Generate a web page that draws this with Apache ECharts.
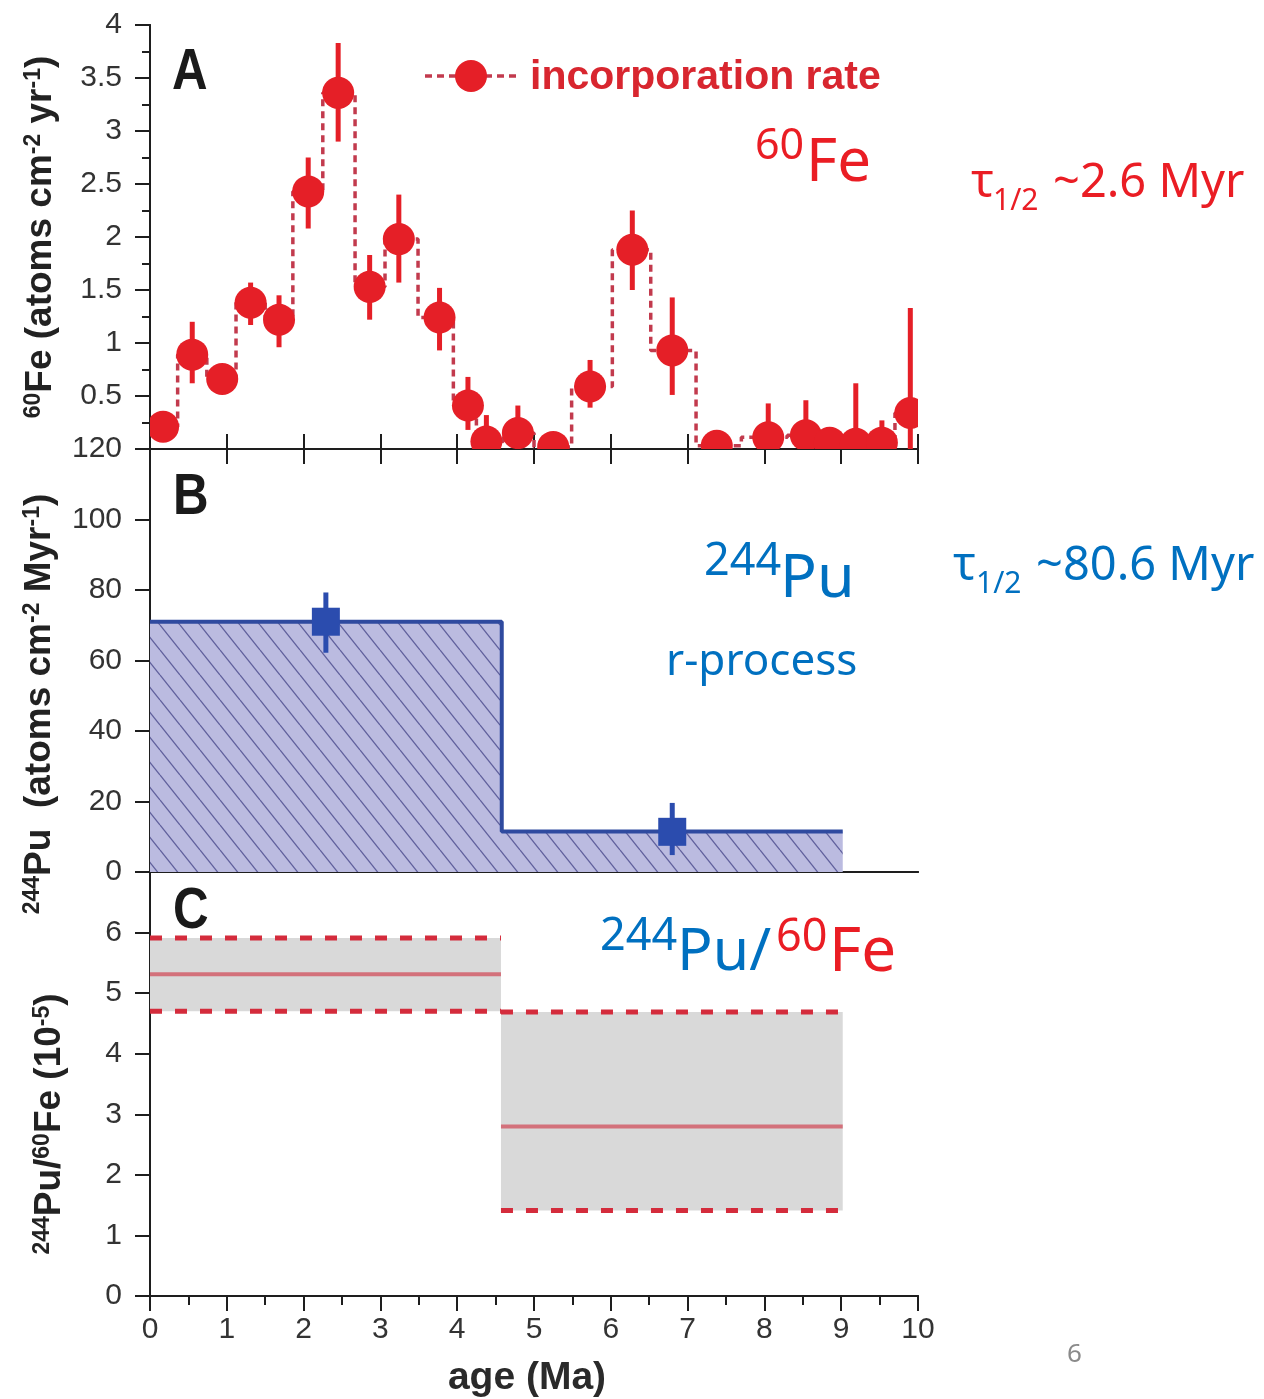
<!DOCTYPE html>
<html><head><meta charset="utf-8">
<script src="https://cdn.jsdelivr.net/npm/echarts@6/dist/echarts.min.js"></script>
<style>html,body{margin:0;padding:0;background:#fff}#c{width:1264px;height:1399px}</style>
</head><body><div id="c"></div>
<script>
// ---------- Panel A : 60Fe incorporation rate ----------
const feAge      = [0.17,0.55,0.94,1.31,1.68,2.06,2.45,2.86,3.24,3.77,4.14,4.38,4.79,5.25,5.73,6.28,6.80,7.38,8.05,8.54,8.85,9.19,9.53,9.90];
const feRate     = [0.21,0.89,0.66,1.38,1.22,2.43,3.36,1.53,1.98,1.24,0.41,0.07,0.15,0.02,0.59,1.88,0.93,0.03,0.11,0.13,0.06,0.05,0.06,0.34];
const feErrLow   = [0.12,0.62,0.56,1.17,0.96,2.08,2.90,1.22,1.57,0.93,0.18,0.00,0.00,0.00,0.39,1.50,0.51,0.00,0.00,0.00,0.00,0.00,0.00,0.00];
const feErrHigh  = [0.30,1.20,0.76,1.57,1.45,2.75,3.83,1.83,2.40,1.52,0.68,0.32,0.41,0.10,0.84,2.25,1.43,0.08,0.43,0.46,0.15,0.62,0.27,1.33];
const feBinEdges = [0,0.36,0.74,1.12,1.50,1.86,2.25,2.67,3.06,3.49,3.95,4.25,4.60,5.00,5.49,6.02,6.52,7.11,7.70,8.30,8.70,9.00,9.35,9.70,10.0];

// ---------- Panel B : 244Pu ----------
const puStepAge  = [0, 4.58, 4.58, 9.02];
const puStepRate = [71, 71, 11.5, 11.5];
const puAge      = [2.29, 6.80];
const puRate     = [71, 11.4];
const puErrLow   = [62.2, 4.8];
const puErrHigh  = [79.3, 19.6];

// ---------- Panel C : 244Pu/60Fe ----------
const ratioStart = [0, 4.57];
const ratioEnd   = [4.57, 9.02];
const ratioMid   = [5.31, 2.80];
const ratioLow   = [4.70, 1.41];
const ratioHigh  = [5.91, 4.69];

// ---------- ticks ----------
const ageTicks = [0,1,2,3,4,5,6,7,8,9,10];

const RED = '#e51f27', STEP = '#c23a4d', BLUE_LINE = '#2f4a9f', BLUE_SQ = '#2b4cae';
const AX = '#1e1e1e', LBL = '#333333';
const FONT = '"Liberation Sans", Arial, sans-serif';
const ANN = '"Noto Sans", "Open Sans", sans-serif';

function hatch() {
  const W = 20, H = 25;
  const c = document.createElement('canvas'); c.width = W; c.height = H;
  const g = c.getContext('2d');
  g.fillStyle = '#bbbbe0'; g.fillRect(0, 0, W, H);
  g.strokeStyle = '#60609c'; g.lineWidth = 1.3;
  for (const dx of [-W, 0, W]) { g.beginPath(); g.moveTo(dx, 0); g.lineTo(dx + W, H); g.stroke(); }
  return c;
}

const grids = [
  {left:150, width:768, top:25,  height:424},
  {left:150, width:768, top:449, height:423},
  {left:150, width:768, top:872, height:424}
].map(g => Object.assign(g, {outerBoundsMode:'none', containLabel:false}));

const axLine = {show:true, lineStyle:{color:AX, width:2}};
function xAx(grid, pos, tick, minor, label) {
  return {
    type:'value', gridIndex:grid, position:pos, min:0, max:10, interval:1,
    axisLine: axLine,
    axisTick: tick ? Object.assign({show:true, lineStyle:{color:AX, width:2}}, tick) : {show:false},
    minorTick: minor ? Object.assign({show:true, splitNumber:2, lineStyle:{color:AX, width:2}}, minor) : {show:false},
    axisLabel: label ? {show:true, margin:19, fontSize:30, fontFamily:FONT, color:LBL,
      formatter: v => ageTicks.includes(v) ? String(v) : ''} : {show:false},
    splitLine:{show:false}, minorSplitLine:{show:false}
  };
}
function yAx(grid, pos, min, max, interval, tick, minor, labelFmt) {
  return {
    type:'value', gridIndex:grid, position:pos, min:min, max:max, interval:interval,
    axisLine: axLine,
    axisTick: Object.assign({show:true, lineStyle:{color:AX, width:2}}, tick),
    minorTick: minor ? Object.assign({show:true, splitNumber:2, lineStyle:{color:AX, width:2}}, minor) : {show:false},
    axisLabel: labelFmt ? {show:true, margin:28, fontSize:30, fontFamily:FONT, color:LBL, formatter:labelFmt} : {show:false},
    splitLine:{show:false}, minorSplitLine:{show:false}
  };
}

const xAxis = [
  xAx(0,'bottom',{inside:true,length:15},null,false),
  xAx(0,'top',{inside:true,length:15},null,false),
  xAx(1,'bottom',null,null,false),
  xAx(1,'top',null,null,false),
  xAx(2,'bottom',{inside:false,length:14},{length:7},true),
  xAx(2,'top',{inside:true,length:15},{length:9},false)
];
const yAxis = [
  yAx(0,'left',0,4,0.5,{inside:false,length:15},{length:8}, v => v === 0 ? '' : String(v)),
  yAx(0,'right',0,4,0.5,{inside:true,length:15},{length:8}, null),
  yAx(1,'left',0,120,20,{inside:false,length:15},null, v => String(v)),
  yAx(1,'right',0,120,20,{inside:true,length:15},null, null),
  yAx(2,'left',0,7,1,{inside:false,length:15},null, v => v === 7 ? '' : String(v)),
  yAx(2,'right',0,7,1,{inside:true,length:15},null, null)
];

// step outline for panel A
const feStep = [];
feRate.forEach((v, i) => { feStep.push([feBinEdges[i], v]); feStep.push([feBinEdges[i+1], v]); });

const series = [
  {
    type:'line', xAxisIndex:0, yAxisIndex:0, data: feStep, symbol:'none', z:2,
    lineStyle:{color:STEP, width:3.5, type:[7,5]}, clip:true, silent:true
  },
  {
    type:'custom', xAxisIndex:0, yAxisIndex:0, z:3, clip:true,
    data: feAge.map((a,i) => [a, feRate[i], feErrLow[i], feErrHigh[i]]),
    encode:{x:0, y:1},
    renderItem(params, api) {
      const c = api.coord([api.value(0), api.value(1)]);
      const lo = api.coord([api.value(0), api.value(2)]);
      const hi = api.coord([api.value(0), api.value(3)]);
      return {type:'group', children:[
        {type:'line', shape:{x1:c[0], y1:hi[1], x2:c[0], y2:lo[1]}, style:{stroke:RED, lineWidth:5}},
        {type:'circle', shape:{cx:c[0], cy:c[1], r:16}, style:{fill:RED}}
      ]};
    }
  },
  {
    type:'line', xAxisIndex:2, yAxisIndex:2, symbol:'none', z:2,
    data: puStepAge.map((a,i) => [a, puStepRate[i]]),
    lineStyle:{color:BLUE_LINE, width:4},
    areaStyle:{color:{image:hatch(), repeat:'repeat'}, opacity:1}
  },
  {
    type:'custom', xAxisIndex:2, yAxisIndex:2, z:3,
    data: puAge.map((a,i) => [a, puRate[i], puErrLow[i], puErrHigh[i]]),
    encode:{x:0, y:1},
    renderItem(params, api) {
      const c = api.coord([api.value(0), api.value(1)]);
      const lo = api.coord([api.value(0), api.value(2)]);
      const hi = api.coord([api.value(0), api.value(3)]);
      return {type:'group', children:[
        {type:'line', shape:{x1:c[0], y1:hi[1], x2:c[0], y2:lo[1]}, style:{stroke:BLUE_SQ, lineWidth:5}},
        {type:'rect', shape:{x:c[0]-14, y:c[1]-14, width:28, height:28}, style:{fill:BLUE_SQ}}
      ]};
    }
  },
  {
    type:'custom', xAxisIndex:4, yAxisIndex:4, z:2,
    data: ratioStart.map((s,i) => [s, ratioEnd[i], ratioMid[i], ratioLow[i], ratioHigh[i]]),
    encode:{x:[0,1], y:[2,3,4]},
    renderItem(params, api) {
      const x0 = api.value(0), x1 = api.value(1);
      const tl = api.coord([x0, api.value(4)]);
      const br = api.coord([x1, api.value(3)]);
      const m0 = api.coord([x0, api.value(2)]);
      const m1 = api.coord([x1, api.value(2)]);
      return {type:'group', children:[
        {type:'rect', shape:{x:tl[0], y:tl[1], width:br[0]-tl[0], height:br[1]-tl[1]}, style:{fill:'#d9d9d9'}},
        {type:'line', shape:{x1:tl[0], y1:tl[1], x2:br[0], y2:tl[1]}, style:{stroke:'#d42c3c', lineWidth:5, lineDash:[12,13]}},
        {type:'line', shape:{x1:tl[0], y1:br[1], x2:br[0], y2:br[1]}, style:{stroke:'#d42c3c', lineWidth:5, lineDash:[12,13]}},
        {type:'line', shape:{x1:m0[0], y1:m0[1], x2:m1[0], y2:m1[1]}, style:{stroke:'#d3717b', lineWidth:4}}
      ]};
    }
  }
];

function t(x, y, text, size, color) {
  return {type:'text', x:x, y:y, z:50,
    style:{text:text, fontSize:size, fill:color, fontFamily:ANN, align:'left', verticalAlign:'middle'}};
}

const sup = {fontSize:23, fontWeight:'bold', fontFamily:FONT, fill:'#222', verticalAlign:'top'};
const bod = {fontSize:37, fontWeight:'bold', fontFamily:FONT, fill:'#222', lineHeight:37};

const graphic = [
  // panel letters
  {type:'text', x:172, y:73, scaleX:0.85, z:50, style:{text:'A', fontSize:58, fontWeight:'bold', fontFamily:FONT, fill:'#1a1a1a', verticalAlign:'middle'}},
  {type:'text', x:173, y:498, scaleX:0.85, z:50, style:{text:'B', fontSize:58, fontWeight:'bold', fontFamily:FONT, fill:'#1a1a1a', verticalAlign:'middle'}},
  {type:'text', x:173, y:912, scaleX:0.85, z:50, style:{text:'C', fontSize:58, fontWeight:'bold', fontFamily:FONT, fill:'#1a1a1a', verticalAlign:'middle'}},
  // legend
  {type:'line', z:50, shape:{x1:425, y1:76, x2:517, y2:76}, style:{stroke:STEP, lineWidth:3.5, lineDash:[7,5]}},
  {type:'circle', z:51, shape:{cx:471, cy:76, r:16}, style:{fill:RED}},
  {type:'text', x:530, y:78, z:50, style:{text:'incorporation rate', fontSize:41, fontWeight:'bold', fontFamily:FONT, fill:'#d8262f', verticalAlign:'middle'}},
  // axis titles
  {type:'text', x:527, y:1378, z:50, style:{text:'age (Ma)', fontSize:39, fontWeight:'bold', fontFamily:FONT, fill:'#2a2a2a', align:'center', verticalAlign:'middle'}},
  {type:'text', x:41, y:237, rotation:Math.PI/2, z:50, style:{
    text:'{s|60}{b|Fe (atoms cm}{s|-2}{b| yr}{s|-1}{b|)}', align:'center', verticalAlign:'middle', rich:{s:sup, b:bod}}},
  {type:'text', x:40, y:704, rotation:Math.PI/2, z:50, style:{
    text:'{s|244}{b|Pu  (atoms cm}{s|-2}{b| Myr}{s|-1}{b|)}', align:'center', verticalAlign:'middle', rich:{s:sup, b:bod}}},
  {type:'text', x:50, y:1124, rotation:Math.PI/2, z:50, style:{
    text:'{s|244}{b|Pu/}{s|60}{b|Fe (10}{s|-5}{b|)}', align:'center', verticalAlign:'middle', rich:{s:sup, b:bod}}},
  // annotations
  t(755, 147, '60', 43, '#ea1d24'),
  t(806, 164, 'Fe', 60, '#ea1d24'),
  t(971, 184, 'τ', 47, '#ea1d24'),
  t(993, 201, '1/2', 30, '#ea1d24'),
  t(1053, 184, '~2.6 Myr', 47, '#ea1d24'),
  t(953, 567, 'τ', 47, '#0070c0'),
  t(976, 584, '1/2', 30, '#0070c0'),
  t(1036, 567, '~80.6 Myr', 47, '#0070c0'),
  t(704, 562, '244', 45, '#0070c0'),
  t(780, 580, 'Pu', 61, '#0070c0'),
  t(666, 662, 'r-process', 44, '#0070c0'),
  t(600, 937, '244', 45, '#0070c0'),
  t(677, 953, 'Pu/', 59, '#0070c0'),
  t(776, 938, '60', 45, '#ea1d24'),
  t(829, 953, 'Fe', 62, '#ea1d24'),
  t(1067, 1355, '6', 26, '#8a8a8a')
];

const chart = echarts.init(document.getElementById('c'), null, {renderer:'canvas'});
chart.setOption({
  animation:false, backgroundColor:'#fff',
  grid: grids, xAxis: xAxis, yAxis: yAxis, series: series, graphic: graphic
});
</script></body></html>
